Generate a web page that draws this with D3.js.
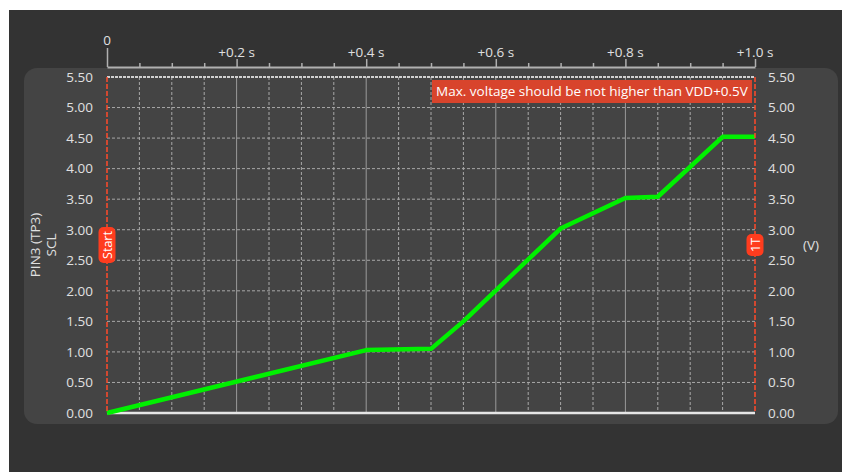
<!DOCTYPE html>
<html>
<head>
<meta charset="utf-8">
<script src="https://cdn.jsdelivr.net/npm/d3@7"></script>
<style>
  body { margin: 0; background: #ffffff; }
  svg { display: block; font-family: "Open Sans", "Noto Sans", sans-serif; }
</style>
</head>
<body>
<svg id="chart" width="842" height="472"></svg>
<script>
// measured signal: time (s) and voltage (V)
const times = [0, 0.4, 0.5, 0.55, 0.7, 0.8, 0.85, 0.95, 1.0];
const volts = [0, 1.03, 1.05, 1.5, 3.02, 3.52, 3.54, 4.52, 4.52];

const yTicks = [0, 0.5, 1, 1.5, 2, 2.5, 3, 3.5, 4, 4.5, 5, 5.5];
const xMajor = [0, 0.2, 0.4, 0.6, 0.8, 1.0];
const xMajorLabels = ["0", "+0.2 s", "+0.4 s", "+0.6 s", "+0.8 s", "+1.0 s"];
const xMinor = d3.range(0, 21).map(i => i * 0.05);

const warning = "Max. voltage should be not higher than VDD+0.5V";
const markers = [{t: 0, label: "Start"}, {t: 1.0, label: "1T"}];

const svg = d3.select('#chart');
const x = d3.scaleLinear().domain([0, 1]).range([107, 755]);
const y = d3.scaleLinear().domain([0, 5.5]).range([413, 77]);
const isMajor = d => Math.abs(d / 0.2 - Math.round(d / 0.2)) < 1e-6;
const fs = 13.5;

// backgrounds
svg.append('rect').attr('x', 9).attr('y', 10).attr('width', 833).attr('height', 462).attr('fill', '#333333');
svg.append('rect').attr('x', 24).attr('y', 68).attr('width', 814).attr('height', 356)
  .attr('rx', 13).attr('fill', '#444444');

// grid
const grid = svg.append('g');
grid.selectAll('line.vx').data(xMinor.filter(t => t > 0.01 && t < 0.99))
  .enter().append('line')
  .attr('x1', d => x(d)).attr('x2', d => x(d))
  .attr('y1', y(5.5)).attr('y2', y(0))
  .attr('stroke', d => isMajor(d) ? '#9a9a9a' : '#a8a8a8')
  .attr('stroke-width', 1)
  .attr('stroke-dasharray', d => isMajor(d) ? null : '3,2');
grid.selectAll('line.hy').data(yTicks.filter(v => v > 0 && v < 5.5))
  .enter().append('line')
  .attr('x1', x(0)).attr('x2', x(1))
  .attr('y1', d => y(d)).attr('y2', d => y(d))
  .attr('stroke', '#a8a8a8').attr('stroke-width', 1).attr('stroke-dasharray', '3,2');
// top & bottom borders
svg.append('line').attr('x1', x(0)).attr('x2', x(1)).attr('y1', y(5.5)).attr('y2', y(5.5))
  .attr('stroke', '#d0d0d0').attr('stroke-width', 2).attr('stroke-dasharray', '3,1');
svg.append('line').attr('x1', x(0)).attr('x2', x(1)).attr('y1', y(0)).attr('y2', y(0))
  .attr('stroke', '#e6e6e6').attr('stroke-width', 2.5);

// top time axis
const topAxis = svg.append('g').attr('transform', 'translate(0,67)')
  .call(d3.axisTop(x).tickValues(xMinor).tickSize(4).tickSizeOuter(0).tickFormat(''));
topAxis.select('.domain').attr('stroke', '#b0b0b0').attr('stroke-width', 2);
topAxis.selectAll('.tick line').attr('stroke', '#b0b0b0').attr('stroke-width', 1.5)
  .attr('y2', d => d === 0 ? -19 : (isMajor(d) ? -8 : -4));
svg.append('g').selectAll('text').data(xMajor).enter().append('text')
  .attr('x', d => x(d)).attr('y', (d, i) => i === 0 ? 45 : 57)
  .attr('text-anchor', 'middle').attr('fill', '#e0e0e0').attr('font-size', fs)
  .text((d, i) => xMajorLabels[i]);

// voltage axes
const fmt = d3.format('.2f');
const leftAxis = svg.append('g').attr('transform', `translate(${x(0)},0)`)
  .call(d3.axisLeft(y).tickValues(yTicks).tickSize(0).tickPadding(14).tickFormat(fmt));
const rightAxis = svg.append('g').attr('transform', `translate(${x(1)},0)`)
  .call(d3.axisRight(y).tickValues(yTicks).tickSize(0).tickPadding(13).tickFormat(fmt));
[leftAxis, rightAxis].forEach(a => {
  a.select('.domain').remove();
  a.selectAll('text').attr('fill', '#e0e0e0').attr('font-size', fs)
    .attr('font-family', '"Open Sans", "Noto Sans", sans-serif');
});

// axis titles
svg.append('text').attr('transform', 'translate(40,245) rotate(-90)')
  .attr('text-anchor', 'middle').attr('fill', '#e0e0e0').attr('font-size', fs).text('PIN3 (TP3)');
svg.append('text').attr('transform', 'translate(56,245) rotate(-90)')
  .attr('text-anchor', 'middle').attr('fill', '#e0e0e0').attr('font-size', fs).text('SCL');
svg.append('text').attr('x', 811).attr('y', 250)
  .attr('text-anchor', 'middle').attr('fill', '#e0e0e0').attr('font-size', fs).text('(V)');

// signal line
const line = d3.line().x((d, i) => x(times[i])).y(d => y(d));
svg.append('path').datum(volts).attr('d', line)
  .attr('fill', 'none').attr('stroke', '#00f000').attr('stroke-width', 4.5)
  .attr('stroke-linejoin', 'round');

// cursor markers
const mk = svg.append('g').selectAll('g').data(markers).enter().append('g')
  .attr('transform', d => `translate(${x(d.t)},0)`);
mk.append('line').attr('y1', y(5.5)).attr('y2', y(0))
  .attr('stroke', '#ff4a2a').attr('stroke-width', 1.5).attr('stroke-dasharray', '5,2');
const badge = mk.append('g').attr('transform', 'translate(0,245) rotate(-90)');
badge.append('rect')
  .attr('x', d => d.label === 'Start' ? -18 : -11).attr('y', -8.5)
  .attr('width', d => d.label === 'Start' ? 36 : 22).attr('height', 17)
  .attr('rx', 5).attr('fill', '#ff3c1e');
badge.append('text').attr('text-anchor', 'middle').attr('y', 4.5)
  .attr('fill', '#ffffff').attr('font-size', 12.5).text(d => d.label);

// warning box
const warn = svg.append('g');
warn.append('rect').attr('x', 432).attr('y', 80).attr('width', 320).attr('height', 23)
  .attr('fill', '#d8442c');
warn.append('text').attr('x', 592).attr('y', 96).attr('text-anchor', 'middle')
  .attr('fill', '#ffffff').attr('font-size', fs).text(warning);
</script>
</body>
</html>
